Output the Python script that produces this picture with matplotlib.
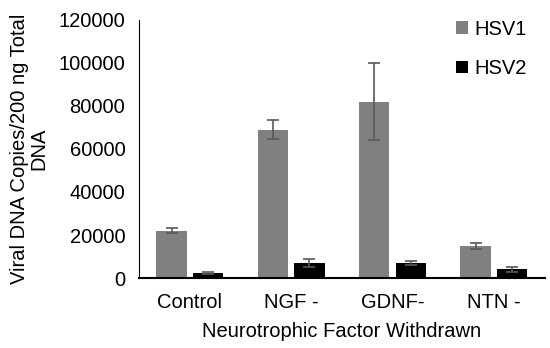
import matplotlib
matplotlib.use("Agg")
import matplotlib.pyplot as plt
import numpy as np

plt.rcParams["font.family"] = ["Liberation Sans", "DejaVu Sans"]

categories = ["Control", "NGF -", "GDNF-", "NTN -"]
hsv1 = [22000, 69000, 82000, 15000]
hsv1_err = [1200, 4500, 17800, 1300]
hsv2 = [2500, 7000, 7000, 4000]
hsv2_err = [500, 2000, 800, 1000]

fs = 14.5

fig = plt.figure(figsize=(5.5, 3.48), dpi=100)
ax = fig.add_axes([0.253, 0.201, 0.737, 0.742])

x = np.arange(len(categories))
w = 0.3
gap = 0.03
ekw = dict(ecolor="#595959", capsize=4, elinewidth=1.2, capthick=1.2)
ax.bar(x - w / 2 - gap, hsv1, w, yerr=hsv1_err, color="#808080", label="HSV1", error_kw=ekw)
ax.bar(x + w / 2 + gap, hsv2, w, yerr=hsv2_err, color="#000000", label="HSV2", error_kw=ekw)

ax.set_xlim(-0.5, len(categories) - 0.5)
ax.set_ylim(0, 120000)
ax.set_yticks(range(0, 120001, 20000))
ax.set_xticks(x)
ax.set_xticklabels(categories)
ax.tick_params(axis="both", length=0, labelsize=fs, colors="#000000")
ax.tick_params(axis="x", pad=11)
ax.tick_params(axis="y", pad=10)

ax.spines["top"].set_visible(False)
ax.spines["right"].set_visible(False)
ax.spines["left"].set_color("#000000")
ax.spines["bottom"].set_color("#000000")
ax.spines["bottom"].set_linewidth(1.5)

ax.set_xlabel("Neurotrophic Factor Withdrawn", fontsize=fs, labelpad=7)
ax.set_ylabel("Viral DNA Copies/200 ng Total\nDNA", fontsize=fs, linespacing=1.05, labelpad=7)

ax.legend(loc="upper right", bbox_to_anchor=(1.0, 1.07), frameon=False, fontsize=fs,
          handlelength=0.6, handleheight=0.6, handletextpad=0.3, labelspacing=1.0)

fig.savefig("out.png", dpi=100)
